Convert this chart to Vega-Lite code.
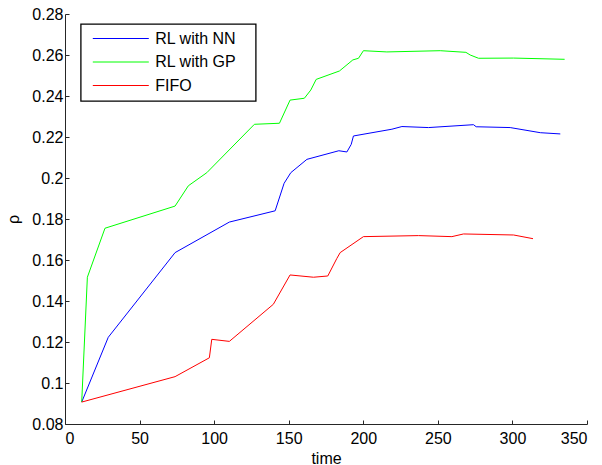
{
  "$schema": "https://vega.github.io/schema/vega-lite/v6.json",
  "width": 522,
  "height": 410,
  "autosize": {"type": "none"},
  "padding": {"left": 65, "top": 14, "right": 15, "bottom": 41},
  "background": "white",
  "config": {
    "view": {"stroke": null},
    "font": "Liberation Sans",
    "axis": {
      "grid": false,
      "domainColor": "#262626",
      "domainWidth": 1,
      "tickColor": "#262626",
      "tickSize": -4,
      "labelFont": "Liberation Sans",
      "labelFontSize": 16,
      "labelColor": "black",
      "titleFont": "Liberation Sans",
      "titleFontSize": 16,
      "titleFontWeight": "normal",
      "titleColor": "black"
    }
  },
  "data": {
    "values": [
      {"series": "RL with NN", "time": 11.2, "rho": 0.0907},
      {"series": "RL with NN", "time": 29.0, "rho": 0.1223},
      {"series": "RL with NN", "time": 73.8, "rho": 0.1636},
      {"series": "RL with NN", "time": 110.2, "rho": 0.1785},
      {"series": "RL with NN", "time": 140.9, "rho": 0.1840},
      {"series": "RL with NN", "time": 146.9, "rho": 0.1974},
      {"series": "RL with NN", "time": 151.4, "rho": 0.2026},
      {"series": "RL with NN", "time": 162.2, "rho": 0.2091},
      {"series": "RL with NN", "time": 183.6, "rho": 0.2133},
      {"series": "RL with NN", "time": 189.0, "rho": 0.2127},
      {"series": "RL with NN", "time": 191.9, "rho": 0.2164},
      {"series": "RL with NN", "time": 193.4, "rho": 0.2205},
      {"series": "RL with NN", "time": 219.2, "rho": 0.2238},
      {"series": "RL with NN", "time": 225.9, "rho": 0.2251},
      {"series": "RL with NN", "time": 243.7, "rho": 0.2246},
      {"series": "RL with NN", "time": 273.9, "rho": 0.2260},
      {"series": "RL with NN", "time": 275.7, "rho": 0.2250},
      {"series": "RL with NN", "time": 298.5, "rho": 0.2246},
      {"series": "RL with NN", "time": 318.7, "rho": 0.2221},
      {"series": "RL with NN", "time": 332.1, "rho": 0.2215},
      {"series": "RL with GP", "time": 11.2, "rho": 0.0907},
      {"series": "RL with GP", "time": 15.0, "rho": 0.1516},
      {"series": "RL with GP", "time": 26.8, "rho": 0.1755},
      {"series": "RL with GP", "time": 73.8, "rho": 0.1863},
      {"series": "RL with GP", "time": 82.7, "rho": 0.1962},
      {"series": "RL with GP", "time": 95.1, "rho": 0.2026},
      {"series": "RL with GP", "time": 127.0, "rho": 0.2262},
      {"series": "RL with GP", "time": 143.8, "rho": 0.2267},
      {"series": "RL with GP", "time": 150.9, "rho": 0.2380},
      {"series": "RL with GP", "time": 160.5, "rho": 0.2389},
      {"series": "RL with GP", "time": 164.8, "rho": 0.2429},
      {"series": "RL with GP", "time": 168.4, "rho": 0.2481},
      {"series": "RL with GP", "time": 184.0, "rho": 0.2522},
      {"series": "RL with GP", "time": 193.0, "rho": 0.2576},
      {"series": "RL with GP", "time": 196.8, "rho": 0.2584},
      {"series": "RL with GP", "time": 200.1, "rho": 0.2621},
      {"series": "RL with GP", "time": 215.8, "rho": 0.2615},
      {"series": "RL with GP", "time": 251.6, "rho": 0.2621},
      {"series": "RL with GP", "time": 268.8, "rho": 0.2613},
      {"series": "RL with GP", "time": 271.7, "rho": 0.2600},
      {"series": "RL with GP", "time": 277.3, "rho": 0.2584},
      {"series": "RL with GP", "time": 300.8, "rho": 0.2585},
      {"series": "RL with GP", "time": 335.0, "rho": 0.2579},
      {"series": "FIFO", "time": 11.2, "rho": 0.0907},
      {"series": "FIFO", "time": 73.8, "rho": 0.1031},
      {"series": "FIFO", "time": 96.8, "rho": 0.1123},
      {"series": "FIFO", "time": 98.4, "rho": 0.1213},
      {"series": "FIFO", "time": 110.2, "rho": 0.1203},
      {"series": "FIFO", "time": 139.7, "rho": 0.1384},
      {"series": "FIFO", "time": 150.9, "rho": 0.1527},
      {"series": "FIFO", "time": 166.6, "rho": 0.1516},
      {"series": "FIFO", "time": 176.2, "rho": 0.1522},
      {"series": "FIFO", "time": 182.3, "rho": 0.1608},
      {"series": "FIFO", "time": 184.5, "rho": 0.1636},
      {"series": "FIFO", "time": 200.1, "rho": 0.1714},
      {"series": "FIFO", "time": 237.0, "rho": 0.1719},
      {"series": "FIFO", "time": 259.4, "rho": 0.1714},
      {"series": "FIFO", "time": 267.2, "rho": 0.1727},
      {"series": "FIFO", "time": 300.8, "rho": 0.1722},
      {"series": "FIFO", "time": 313.8, "rho": 0.1704}
    ]
  },
  "mark": {"type": "line", "strokeWidth": 1},
  "encoding": {
    "x": {
      "field": "time",
      "type": "quantitative",
      "scale": {"domain": [0, 350], "nice": false, "zero": false},
      "axis": {
        "title": "time",
        "values": [0, 50, 100, 150, 200, 250, 300, 350],
        "labelPadding": 10,
        "titlePadding": 4
      }
    },
    "y": {
      "field": "rho",
      "type": "quantitative",
      "scale": {"domain": [0.08, 0.28], "nice": false, "zero": false},
      "axis": {
        "title": "ρ",
        "values": [0.08, 0.1, 0.12, 0.14, 0.16, 0.18, 0.2, 0.22, 0.24, 0.26, 0.28],
        "format": "~g",
        "labelPadding": 6,
        "titlePadding": 10
      }
    },
    "color": {
      "field": "series",
      "type": "nominal",
      "sort": ["RL with NN", "RL with GP", "FIFO"],
      "scale": {
        "domain": ["RL with NN", "RL with GP", "FIFO"],
        "range": ["#0000ff", "#00ff00", "#ff0000"]
      },
      "legend": {
        "title": "x",
        "titleColor": "transparent",
        "titleOrient": "right",
        "titleFontSize": 10,
        "titlePadding": 6,
        "orient": "none",
        "legendX": 15.7,
        "legendY": 10,
        "symbolType": "stroke",
        "symbolSize": 3136,
        "symbolStrokeWidth": 1,
        "symbolOffset": 4.6,
        "labelOffset": 6,
        "labelFont": "Liberation Sans",
        "labelFontSize": 16,
        "labelColor": "black",
        "clipHeight": 15,
        "rowPadding": 6.5,
        "padding": 7,
        "strokeColor": "black",
        "fillColor": "white",
        "encode": {"legend": {"update": {"strokeWidth": {"value": 1.3}}}}
      }
    }
  }
}
